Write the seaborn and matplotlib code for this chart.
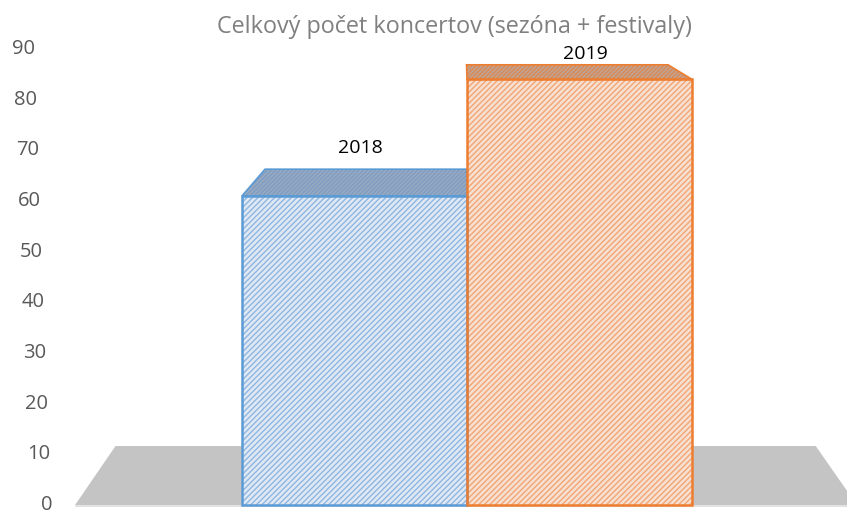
import numpy as np
import pandas as pd
import matplotlib
matplotlib.use("Agg")
import matplotlib.pyplot as plt
from matplotlib.patches import Polygon, Rectangle
import seaborn as sns

# ---- data ----
years = ["2018", "2019"]
concerts = [61, 84]
yticks = [0, 10, 20, 30, 40, 50, 60, 70, 80, 90]
title = "Celkový počet koncertov (sezóna + festivaly)"

# ---- style ----
face_colors = ["#dde9f6", "#fcdfcc"]
hatch_colors = ["#8db6e2", "#f3a574"]
edge_colors = ["#5b9bd5", "#ed7d31"]
top_colors = ["#98aabf", "#c0a393"]
top_hatch = ["#7f9dc4", "#d98a55"]
floor_color = "#c4c4c4"

# perspective "camera": vanishing point (data coords) and depth scale
VP = (0.48, 111.5)
DEPTH = 0.8956
LABEL_DEPTH = 0.805

sns.set_theme(style="white")
plt.rcParams["font.family"] = ["Open Sans", "DejaVu Sans"]
plt.rcParams["hatch.linewidth"] = 1.0

fig = plt.figure(figsize=(8.47, 5.15), dpi=100)
ax = fig.add_axes([0, 0, 1, 1])

df = pd.DataFrame({"year": years, "count": concerts})
sns.barplot(data=df, x="year", y="count", hue="year", palette=face_colors,
            width=1.0, linewidth=0, legend=False, ax=ax, zorder=2)

ax.set_xlim(-1.5756, 2.1889)
ax.set_ylim(-1.974, 99.66)
ax.set_axis_off()


def project(x, y, s=DEPTH):
    return (VP[0] + s * (x - VP[0]), VP[1] + s * (y - VP[1]))


# floor plane at value 0
fx0, fx1 = -1.242, 2.233
floor = [(fx0, 0), (fx1, 0), project(fx1, 0), project(fx0, 0)]
ax.add_patch(Polygon(floor, closed=True, facecolor=floor_color,
                     edgecolor="none", zorder=0.5))
ax.plot([fx0, fx1], [-0.25, -0.25], color="#e2e2e2", lw=1.5, zorder=0.6,
        solid_capstyle="butt")

bars = [p for p in ax.patches if isinstance(p, Rectangle)]
for i, p in enumerate(bars):
    x0 = p.get_x()
    w = p.get_width()
    h = p.get_height()
    p.set_edgecolor(hatch_colors[i])
    p.set_hatch("//////")
    # outline of the front face
    ax.add_patch(Rectangle((x0, 0), w, h, facecolor="none",
                           edgecolor=edge_colors[i], lw=1.8, zorder=3))
    # top face
    fl, fr = (x0, h), (x0 + w, h)
    top = [fl, fr, project(*fr), project(*fl)]
    ax.add_patch(Polygon(top, closed=True, facecolor=top_colors[i],
                         edgecolor=top_hatch[i], hatch="////////", lw=0, zorder=2))
    ax.add_patch(Polygon(top, closed=True, facecolor="none",
                         edgecolor=edge_colors[i], lw=1.2, zorder=3))
    # category label above the bar
    cx = x0 + w / 2
    ly = VP[1] + LABEL_DEPTH * (h - VP[1])
    ax.annotate(years[i], xy=(cx, ly), xytext=(6, -2), textcoords="offset pixels",
                ha="center", va="center", fontsize=14, color="black", zorder=5)

# y tick labels along slanted left wall
for v in yticks:
    xr = (52 - 17 * v / 90) / 847
    ax.text(xr, v, str(v), transform=ax.get_yaxis_transform(), ha="right",
            va="center", fontsize=14.5, color="#595959")

fig.text(454 / 847, 1 - 27 / 515, title, ha="center", va="center",
         fontsize=16.8, color="#808080")

fig.savefig("out.png", dpi=100)
